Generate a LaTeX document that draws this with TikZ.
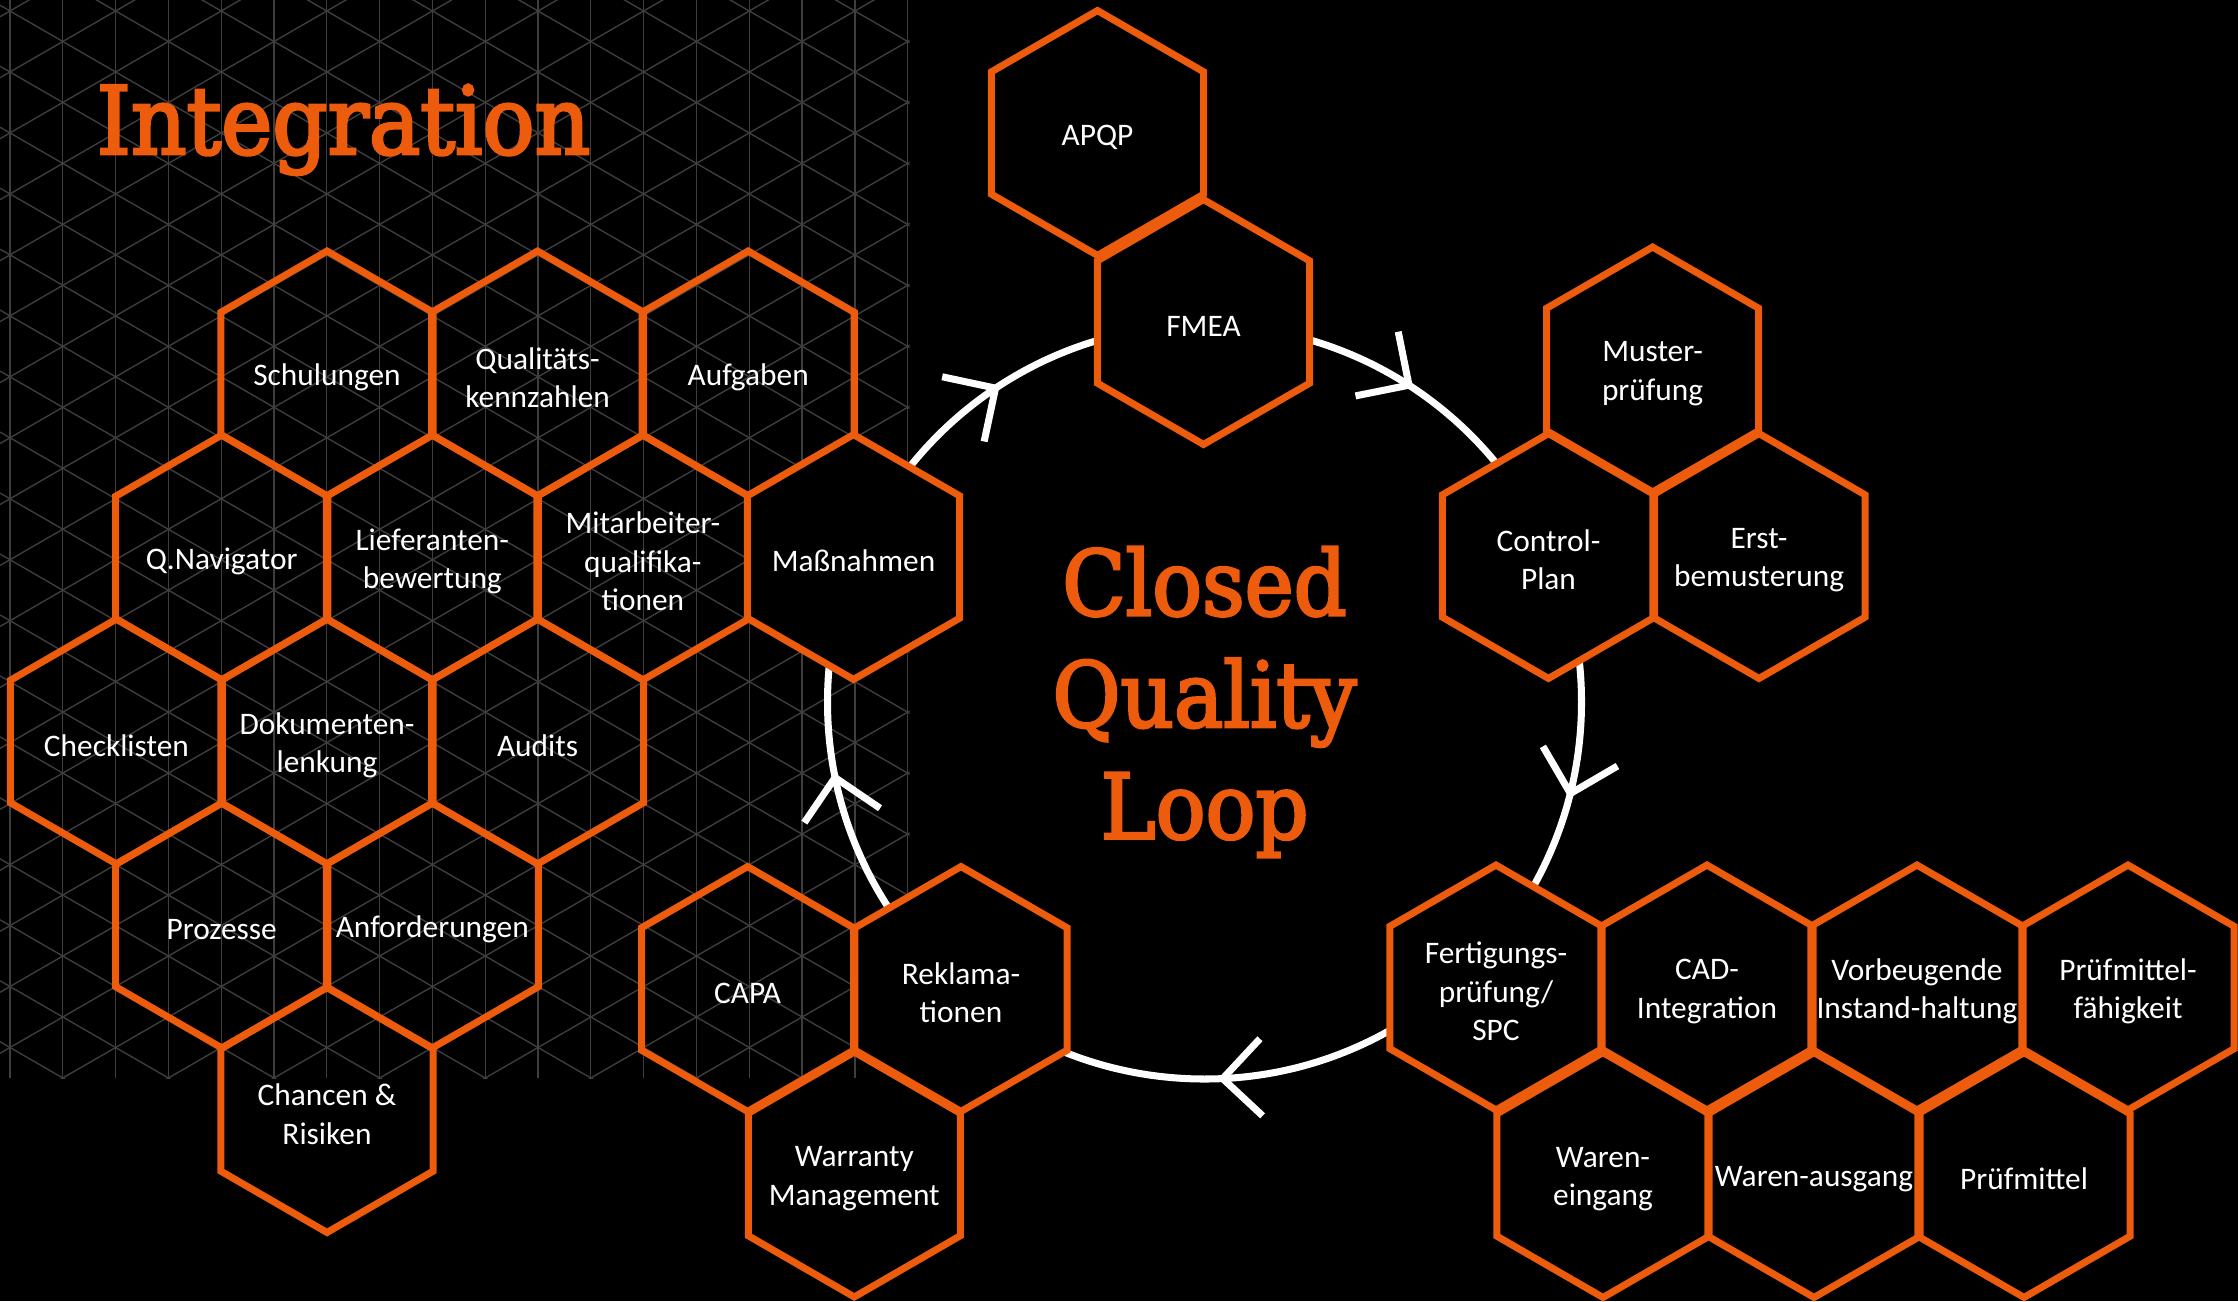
\documentclass[tikz,border=0pt]{standalone}
\usepackage{fontspec}
\usetikzlibrary{shapes.geometric,arrows.meta,decorations.markings}
\definecolor{qorange}{RGB}{237,91,12}
\definecolor{gridgray}{RGB}{62,62,62}
\newfontfamily\hexfont{Carlito}
\newfontfamily\slabfont{DejaVu Serif Condensed}[FakeBold=3,FakeStretch=1.02]

\begin{document}
\begin{tikzpicture}[x=0.014cm,y=0.014cm,
  hexa/.style={regular polygon,regular polygon sides=6,shape border rotate=30,
    minimum size=3.43cm,inner sep=0pt,draw=qorange,line width=2.8pt,
    label={[hextext]center:{#1}}},
  loophex/.style={hexa={#1},fill=black},
  hextext/.style={text=white,align=center,yshift=-1.6pt,
    font=\hexfont\fontsize{12.5}{15.3}\selectfont},
  gridline/.style={gridgray,line width=0.55pt},
  loopline/.style={white,line width=2.8pt},
  headline/.style={text=qorange,font=\slabfont\fontsize{36}{44.5}\selectfont}]

  \useasboundingbox (0,0) rectangle (2238,-1301);
  \fill[black] (0,0) rectangle (2238,-1301);

  % triangle grid behind the integration part
  \begin{scope}
    \clip (0,0) rectangle (909.5,-1078);
    \foreach \k in {0,...,17}
      \draw[gridline] ({10+52.8*\k},0) -- ({10+52.8*\k},-1078);
    \foreach \j in {-10,...,28} {
      \draw[gridline] (0,{-(11+60.97*\j-5.77)}) -- (910,{-(11+60.97*\j+519.6)});
      \draw[gridline] (0,{-(11+60.97*\j+5.77)}) -- (910,{-(11+60.97*\j-519.6)});
    }
  \end{scope}

  % the loop
  \coordinate (loopc) at (1204.5,-702);
  \draw[loopline,postaction={decorate},decoration={markings,
      mark=at position 0.1567 with {\arrowreversed{Straight Barb[length=5.4mm,width=10.8mm]}},
      mark=at position 0.3414 with {\arrowreversed{Straight Barb[length=5.4mm,width=10.8mm]}},
      mark=at position 0.5300 with {\arrowreversed{Straight Barb[length=5.4mm,width=10.8mm]}},
      mark=at position 0.7556 with {\arrowreversed{Straight Barb[length=5.4mm,width=10.8mm]}},
      mark=at position 0.9589 with {\arrowreversed{Straight Barb[length=5.4mm,width=10.8mm]}}}]
    (loopc) circle[radius=377];

  % integration
  \node[hexa={Schulungen}] (schul) at (327,-373.5) {};
  \node[hexa={Qualitäts-\\kennzahlen}] (kennz) at (537.6,-373.5) {};
  \node[hexa={Aufgaben}] (aufg) at (748.2,-373.5) {};
  \node[hexa={Q.Navigator}] (qnav) at (221.7,-557.5) {};
  \node[hexa={Lieferanten-\\bewertung}] (lief) at (432.3,-557.5) {};
  \node[hexa={Mitarbeiter-\\qualifika-\\tionen}] (mitarb) at (642.9,-557.5) {};
  \node[loophex={Maßnahmen}] (massn) at (853.5,-557) {};
  \node[hexa={Checklisten}] (check) at (116.4,-741.5) {};
  \node[hexa={Dokumenten-\\lenkung}] (doku) at (327,-741.5) {};
  \node[hexa={Audits}] (audits) at (537.6,-741.5) {};
  \node[hexa={Prozesse}] (proz) at (221.7,-925.5) {};
  \node[hexa={Anforderungen}] (anf) at (432.3,-925.5) {};
  \node[hexa={Chancen \&\\Risiken}] (chancen) at (327,-1110) {};

  % closed quality loop
  \node[hexa={APQP}] (apqp) at (1097.5,-133) {};
  \node[loophex={FMEA}] (fmea) at (1203.5,-322) {};
  \node[hexa={Muster-\\prüfung}] (muster) at (1652.6,-369.5) {};
  \node[loophex={Control-\\Plan}] (control) at (1548.5,-556) {};
  \node[hexa={Erst-\\bemusterung}] (erst) at (1759,-556) {};
  \node[loophex={Fertigungs-\\prüfung/\\SPC}] (fert) at (1496,-987.5) {};
  \node[hexa={CAD-\\Integration}] (cad) at (1707,-987.5) {};
  \node[hexa={Vorbeugende\\Instand-haltung}] (instand) at (1917,-987.5) {};
  \node[hexa={Prüfmittel-\\fähigkeit}] (pmfaehig) at (2128,-987.5) {};
  \node[hexa={Waren-\\eingang}] (wein) at (1603,-1175) {};
  \node[hexa={Waren-ausgang}] (waus) at (1814,-1175) {};
  \node[hexa={Prüfmittel}] (pm) at (2024,-1175) {};
  \node[hexa={CAPA}] (capa) at (747.6,-989) {};
  \node[loophex={Reklama-\\tionen}] (rekl) at (961,-989) {};
  \node[hexa={Warranty\\Management}] (warranty) at (854.3,-1174.5) {};

  \node[headline,anchor=base west,font=\slabfont\fontsize{37.5}{44.5}\selectfont]
    (integ) at (88,-154) {Integration};
  \node[headline,align=center] (loop) at (loopc) {Closed\\Quality\\Loop};
\end{tikzpicture}
\end{document}
